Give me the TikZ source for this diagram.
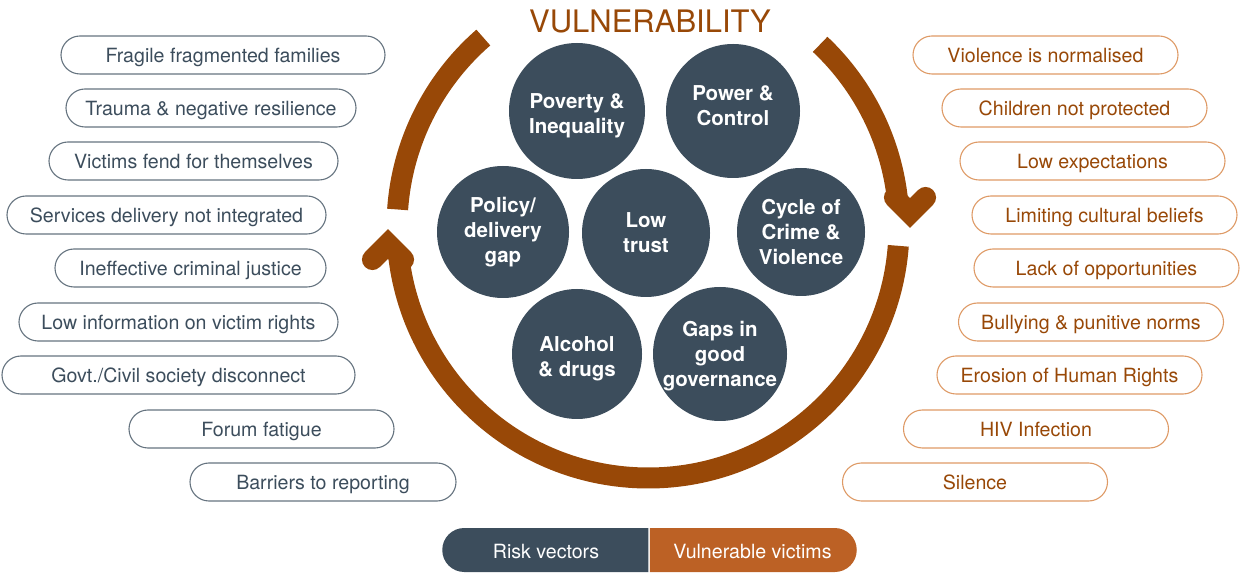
\documentclass[tikz,border=0pt]{standalone}
\usepackage{fontspec}
\setmainfont{TeX Gyre Heros}
\usetikzlibrary{calc,shapes.misc}
\definecolor{slate}{HTML}{3C4D5C}
\definecolor{rust}{HTML}{984807}
\definecolor{rustlight}{HTML}{DE9A66}
\definecolor{slateline}{HTML}{65737F}
\definecolor{legendorange}{HTML}{BC6125}

\begin{document}
\begin{tikzpicture}[x=1pt,y=1pt,
  bubble/.style={circle, fill=slate, inner sep=0pt},
  bubbletext/.style={text=white, inner sep=0pt, align=center,
    font=\bfseries\fontsize{20.5}{25}\selectfont},
  pill/.style={draw, rectangle, rounded corners=19pt, minimum height=38pt,
    inner sep=0pt, line width=1.1pt, text height=15.5pt, text depth=0pt,
    font=\fontsize{19.6}{22}\selectfont},
  riskpill/.style={pill, draw=slateline, text=slate},
  victimpill/.style={pill, draw=rustlight, text=rust, minimum width=265pt},
  legendpart/.style={rounded rectangle, minimum height=44pt, inner sep=0pt,
    text height=16pt, text depth=0pt,
    text=white, font=\fontsize{19.6}{22}\selectfont},
  ringline/.style={draw=rust, line width=21pt},
  chevron/.style={draw=rust, line width=21pt, line cap=round, line join=miter}
]
\useasboundingbox (0,0) rectangle (1242,573);

% title
\node[text=rust, font=\fontsize{31}{34}\selectfont] (title) at (650,552) {VULNERABILITY};

% ring of arrows around the cluster
\coordinate (O) at (648,346);
\draw[ringline] ($(O)+(131:251)$) arc[start angle=131, end angle=176, radius=251];
\draw[ringline] ($(O)+(46.7:251)$) arc[start angle=46.7, end angle=6, radius=251];
\draw[ringline] ($(O)+(-4.3:251)$) arc[start angle=-4.3, end angle=-174, radius=251];
% arrow heads
\coordinate (headR) at (910,360);
\coordinate (headL) at (388,329);
\draw[chevron] ($(headR)+(135:22)$) -- (headR) -- ($(headR)+(45:22)$);
\draw[chevron] ($(headL)+(315:22)$) -- (headL) -- ($(headL)+(225:22)$);

% central factors
\node[bubble, minimum size=136pt] (c1) at (577,462) {};
\node[bubble, minimum size=134pt] (c2) at (733,462) {};
\node[bubble, minimum size=132pt] (c3) at (503,341) {};
\node[bubble, minimum size=128pt] (c4) at (646,340) {};
\node[bubble, minimum size=128pt] (c5) at (801,341) {};
\node[bubble, minimum size=130pt] (c6) at (577,219) {};
\node[bubble, minimum size=134pt] (c7) at (720,219) {};
\node[bubbletext] (t1) at ($(c1)+(0,-5)$) {Poverty \&\\Inequality};
\node[bubbletext] (t2) at ($(c2)+(0,5.5)$) {Power \&\\Control};
\node[bubbletext] (t3) at (c3) {Policy/\\delivery\\gap};
\node[bubbletext] (t4) at (c4) {Low\\trust};
\node[bubbletext] (t5) at (c5) {Cycle of\\Crime \&\\Violence};
\node[bubbletext] (t6) at ($(c6)+(0,-5)$) {Alcohol\\\& drugs};
\node[bubbletext] (t7) at ($(c7)+(0,-2.5)$) {Gaps in\\good\\governance};

% risk vectors
\node[riskpill, minimum width=324pt] (l1) at (223,518) {Fragile fragmented families};
\node[riskpill, minimum width=290pt] (l2) at (211,465) {Trauma \& negative resilience};
\node[riskpill, minimum width=289pt] (l3) at (193.5,412) {Victims fend for themselves};
\node[riskpill, minimum width=319pt] (l4) at (166.5,358) {Services delivery not integrated};
\node[riskpill, minimum width=271pt] (l5) at (190.5,305) {Ineffective criminal justice};
\node[riskpill, minimum width=319pt] (l6) at (178.5,251) {Low information on victim rights};
\node[riskpill, minimum width=353pt] (l7) at (178.5,198) {Govt./Civil society disconnect};
\node[riskpill, minimum width=265pt] (l8) at (261.5,144) {Forum fatigue};
\node[riskpill, minimum width=266pt] (l9) at (323,91) {Barriers to reporting};

% vulnerable victims
\node[victimpill] (r1) at (1045.5,518) {Violence is normalised};
\node[victimpill] (r2) at (1074.5,465) {Children not protected};
\node[victimpill] (r3) at (1092.5,412) {Low expectations};
\node[victimpill] (r4) at (1104.5,358) {Limiting cultural beliefs};
\node[victimpill] (r5) at (1106.5,305) {Lack of opportunities};
\node[victimpill] (r6) at (1091,251) {Bullying \& punitive norms};
\node[victimpill] (r7) at (1069.5,198) {Erosion of Human Rights};
\node[victimpill] (r8) at (1036,144) {HIV Infection};
\node[victimpill] (r9) at (975,91) {Silence};

% legend
\node[legendpart, fill=slate, rounded rectangle east arc=none, minimum width=206pt] (risk) at (546,23) {Risk vectors};
\node[legendpart, fill=legendorange, rounded rectangle west arc=none, minimum width=207pt] (victims) at (752.5,23) {Vulnerable victims};
\end{tikzpicture}
\end{document}
